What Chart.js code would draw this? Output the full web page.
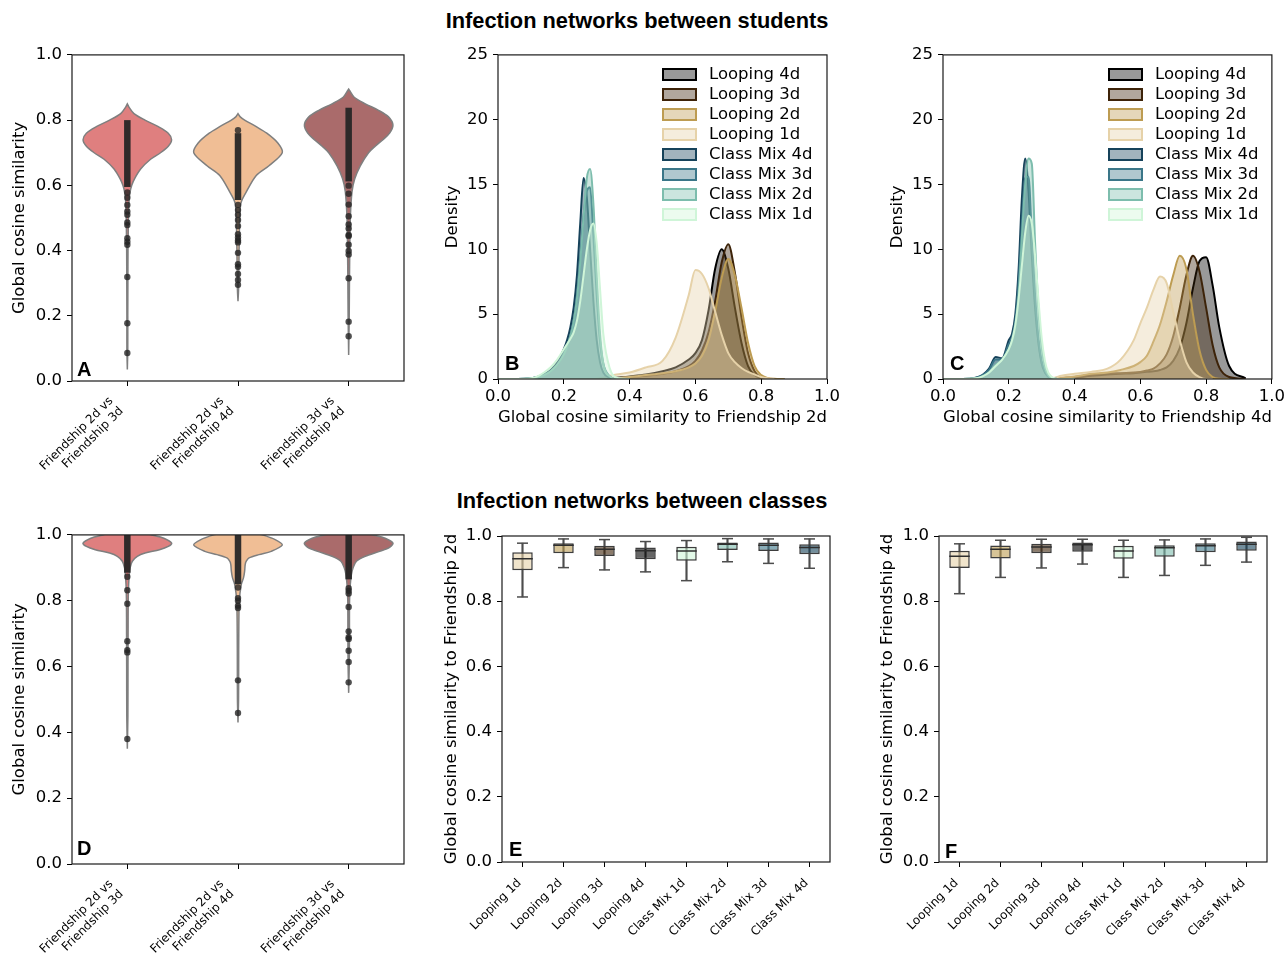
<!DOCTYPE html>
<html>
<head>
<meta charset="utf-8">
<script src="https://cdn.jsdelivr.net/npm/chart.js@4.4.1/dist/chart.umd.min.js"></script>
<style>
  html, body { margin: 0; padding: 0; background: #fff; overflow: hidden; }
  #page { position: relative; width: 1286px; height: 954px; font-family: 'DejaVu Sans', sans-serif; color: #000; }
  canvas { position: absolute; }
  .title { position: absolute; transform: translateX(-50%); font: bold 21.8px 'Liberation Sans', Arial, sans-serif; white-space: nowrap; }
  .legend-box { position: absolute; width: 31px; height: 9px; border: 2px solid; }
  .legend-text { position: absolute; font: 16.5px 'DejaVu Sans'; line-height: 20px; white-space: nowrap; }
</style>
</head>
<body>
<div id="page">
  <div class="title" style="left:637px; top:8px">Infection networks between students</div>
  <div class="title" style="left:642px; top:488px">Infection networks between classes</div>
  <canvas id="chartA" width="420" height="440" style="left:0px; top:40px"></canvas>
  <canvas id="chartB" width="430" height="400" style="left:430px; top:40px"></canvas>
  <canvas id="chartC" width="410" height="400" style="left:878px; top:40px"></canvas>
  <canvas id="chartD" width="420" height="434" style="left:0px; top:520px"></canvas>
  <canvas id="chartE" width="420" height="434" style="left:430px; top:520px"></canvas>
  <canvas id="chartF" width="420" height="434" style="left:866px; top:520px"></canvas>
</div>
<script>
// ---- violin panels (A, D) ----
const pairLabels = [['Friendship 2d vs', 'Friendship 3d'], ['Friendship 2d vs', 'Friendship 4d'], ['Friendship 3d vs', 'Friendship 4d']];
const violinColors = ['#df7f7f', '#f0be95', '#aa6b6b'];

// students: y levels and half widths of each violin
const vA1_y = [0.035, 0.10, 0.20, 0.30, 0.40, 0.45, 0.50, 0.55, 0.58, 0.60, 0.62, 0.65, 0.68, 0.70, 0.72, 0.74, 0.76, 0.78, 0.80, 0.82, 0.84, 0.85];
const vA1_w = [0, 0.004, 0.004, 0.005, 0.006, 0.008, 0.01, 0.015, 0.025, 0.04, 0.065, 0.12, 0.21, 0.30, 0.37, 0.40, 0.37, 0.28, 0.16, 0.06, 0.015, 0];
const vA2_y = [0.245, 0.28, 0.35, 0.45, 0.52, 0.55, 0.58, 0.63, 0.66, 0.70, 0.73, 0.76, 0.78, 0.80, 0.81, 0.82];
const vA2_w = [0, 0.005, 0.008, 0.012, 0.018, 0.03, 0.075, 0.165, 0.28, 0.40, 0.36, 0.26, 0.165, 0.06, 0.02, 0];
const vA3_y = [0.08, 0.20, 0.30, 0.40, 0.50, 0.58, 0.62, 0.66, 0.70, 0.72, 0.74, 0.76, 0.785, 0.81, 0.83, 0.85, 0.87, 0.89, 0.895];
const vA3_w = [0, 0.005, 0.007, 0.01, 0.015, 0.03, 0.055, 0.105, 0.18, 0.24, 0.31, 0.37, 0.40, 0.36, 0.27, 0.15, 0.05, 0.01, 0];
const ptsA1 = [0.578, 0.562, 0.54, 0.52, 0.51, 0.486, 0.478, 0.438, 0.427, 0.418, 0.319, 0.177, 0.086];
const ptsA2 = [0.769, 0.54, 0.524, 0.51, 0.494, 0.475, 0.45, 0.44, 0.431, 0.425, 0.393, 0.358, 0.35, 0.328, 0.31, 0.295];
const ptsA3 = [0.599, 0.574, 0.541, 0.505, 0.48, 0.468, 0.448, 0.445, 0.418, 0.399, 0.388, 0.315, 0.182, 0.137];
const denseA1 = [0.595, 0.80];
const denseA2 = [0.555, 0.76];
const denseA3 = [0.612, 0.838];

// classes
const vD1_y = [0.35, 0.45, 0.60, 0.70, 0.80, 0.85, 0.88, 0.90, 0.92, 0.935, 0.945, 0.955, 0.965, 0.975, 0.99, 1.0, 1.01, 1.02];
const vD1_w = [0, 0.005, 0.006, 0.007, 0.008, 0.012, 0.018, 0.025, 0.045, 0.09, 0.16, 0.29, 0.37, 0.40, 0.33, 0.22, 0.1, 0];
const vD2_y = [0.43, 0.50, 0.60, 0.70, 0.80, 0.85, 0.87, 0.89, 0.91, 0.92, 0.93, 0.94, 0.95, 0.969, 0.985, 1.0, 1.01, 1.02];
const vD2_w = [0, 0.005, 0.006, 0.007, 0.012, 0.03, 0.05, 0.06, 0.065, 0.075, 0.10, 0.19, 0.30, 0.40, 0.34, 0.22, 0.1, 0];
const vD3_y = [0.52, 0.60, 0.70, 0.80, 0.85, 0.88, 0.90, 0.92, 0.935, 0.95, 0.962, 0.975, 0.99, 1.0, 1.01, 1.02];
const vD3_w = [0, 0.005, 0.007, 0.008, 0.015, 0.025, 0.04, 0.07, 0.15, 0.28, 0.37, 0.40, 0.33, 0.22, 0.1, 0];
const ptsD1 = [0.873, 0.832, 0.791, 0.677, 0.65, 0.643, 0.38];
const ptsD2 = [0.84, 0.808, 0.80, 0.785, 0.778, 0.558, 0.459];
const ptsD3 = [0.838, 0.83, 0.822, 0.781, 0.707, 0.689, 0.684, 0.648, 0.614, 0.552];
const denseD1 = [0.885, 1.0];
const denseD2 = [0.85, 1.0];
const denseD3 = [0.865, 1.0];

// ---- density panels (B, C) ----
const kdeLabels = ['Looping 4d', 'Looping 3d', 'Looping 2d', 'Looping 1d', 'Class Mix 4d', 'Class Mix 3d', 'Class Mix 2d', 'Class Mix 1d'];
const kdeColors = ['#000000', '#3d2309', '#bd9c52', '#e6d2a9', '#16425a', '#3a7688', '#7dbdad', '#cff5d8'];
const kdeGrid = [0.00, 0.06, 0.10, 0.12, 0.14, 0.16, 0.18, 0.20, 0.21, 0.22, 0.23, 0.24, 0.25, 0.26, 0.27, 0.28, 0.29, 0.30, 0.31, 0.32,
  0.34, 0.36, 0.40, 0.45, 0.50, 0.54, 0.58, 0.60, 0.62, 0.64, 0.66, 0.68, 0.70, 0.72, 0.74, 0.76, 0.78, 0.80, 0.82, 0.84, 0.87, 0.92];

const bLoop4 = [0, 0, 0, 0, 0, 0, 0, 0, 0, 0, 0, 0, 0, 0, 0, 0, 0, 0, 0, 0.02, 0.05, 0.1, 0.2, 0.35, 0.6, 0.9, 1.5, 2.0, 3.0, 5.3, 8.5, 10.0, 8.5, 5.5, 2.8, 1.0, 0.3, 0.05, 0, 0, 0];
const bLoop3 = [0, 0, 0, 0, 0, 0, 0, 0, 0, 0, 0, 0, 0, 0, 0, 0, 0, 0, 0, 0.01, 0.03, 0.05, 0.15, 0.25, 0.4, 0.6, 1.0, 1.4, 2.2, 3.6, 6.0, 9.0, 10.4, 8.2, 4.8, 2.0, 0.6, 0.12, 0.02, 0, 0];
const bLoop2 = [null, null, null, null, null, null, null, 0, 0, 0, 0, 0, 0, 0, 0, 0, 0, 0, 0, 0.01, 0.03, 0.05, 0.15, 0.3, 0.45, 0.6, 0.9, 1.2, 1.8, 3.0, 5.2, 7.8, 9.25, 8.0, 5.5, 2.8, 1.0, 0.3, 0.08, 0.02, 0];
const bLoop1 = [null, null, null, null, null, null, null, 0, 0, 0, 0, 0, 0, 0, 0, 0, 0, 0.02, 0.05, 0.1, 0.25, 0.35, 0.5, 0.9, 1.4, 3.2, 6.5, 8.4, 8.1, 7.0, 5.2, 3.4, 2.0, 1.3, 0.85, 0.55, 0.35, 0.15, 0.05, 0];
const bMix4 = [0, 0, 0.05, 0.15, 0.35, 0.7, 1.3, 2.3, 3.0, 4.0, 5.5, 8.0, 12.0, 15.5, 14.0, 10.0, 6.0, 3.0, 1.3, 0.5, 0.1, 0, 0];
const bMix3 = [0, 0, 0.05, 0.15, 0.35, 0.6, 1.1, 2.0, 2.6, 3.4, 4.5, 6.5, 9.5, 12.5, 14.5, 14.8, 11.0, 6.5, 3.0, 1.2, 0.2, 0, 0];
const bMix2 = [0, 0, 0.03, 0.1, 0.3, 0.6, 1.1, 1.9, 2.5, 3.3, 4.4, 6.2, 9.0, 12.5, 15.5, 16.2, 13.5, 8.0, 3.5, 1.2, 0.2, 0.02, 0];
const bMix1 = [0, 0, 0.05, 0.2, 0.5, 0.9, 1.5, 2.3, 2.7, 3.1, 3.6, 4.5, 6.0, 8.0, 10.0, 11.5, 12.0, 10.5, 7.0, 3.5, 0.8, 0.1, 0];

const cLoop4 = [0, 0, 0, 0, 0, 0, 0, 0, 0, 0, 0, 0, 0, 0, 0, 0, 0, 0, 0, 0, 0.02, 0.05, 0.1, 0.25, 0.35, 0.4, 0.45, 0.5, 0.55, 0.6, 0.7, 0.9, 1.4, 2.4, 4.3, 7.0, 9.1, 9.4, 7.2, 4.0, 1.0, 0.05];
const cLoop3 = [0, 0, 0, 0, 0, 0, 0, 0, 0, 0, 0, 0, 0, 0, 0, 0, 0, 0, 0, 0, 0.02, 0.05, 0.15, 0.3, 0.45, 0.45, 0.5, 0.55, 0.65, 0.8, 1.2, 1.9, 3.3, 5.5, 8.0, 9.5, 8.3, 5.5, 2.6, 0.9, 0.15, 0];
const cLoop2 = [null, null, null, null, null, null, null, 0, 0, 0, 0, 0, 0, 0, 0, 0, 0, 0, 0, 0, 0.05, 0.1, 0.2, 0.4, 0.5, 0.7, 1.0, 1.3, 1.8, 2.9, 4.2, 6.0, 8.0, 9.5, 8.5, 5.0, 2.2, 0.7, 0.15, 0.02, 0];
const cLoop1 = [null, null, null, null, null, null, null, 0, 0, 0, 0, 0, 0, 0, 0, 0, 0, 0, 0, 0.05, 0.1, 0.25, 0.4, 0.55, 0.8, 1.5, 3.0, 4.3, 5.5, 6.9, 7.9, 7.4, 5.2, 3.0, 1.3, 0.5, 0.15, 0, 0];
const cMix4 = [0, 0, 0.1, 0.3, 0.8, 1.7, 1.6, 3.0, 3.5, 5.0, 8.5, 14.0, 17.0, 14.5, 9.5, 5.5, 2.8, 1.2, 0.5, 0.2, 0.02, 0, 0];
const cMix3 = [0, 0, 0.1, 0.3, 0.7, 1.5, 1.5, 2.7, 3.2, 4.5, 7.5, 12.0, 15.5, 15.6, 11.0, 6.5, 3.2, 1.4, 0.6, 0.2, 0.02, 0, 0];
const cMix2 = [0, 0, 0.05, 0.2, 0.5, 1.1, 1.5, 2.3, 2.9, 4.0, 6.5, 11.0, 15.0, 17.0, 16.6, 10.5, 5.5, 2.4, 0.9, 0.3, 0.03, 0, 0];
const cMix1 = [0, 0, 0.05, 0.2, 0.5, 1.0, 1.5, 2.3, 3.0, 4.2, 6.2, 8.8, 11.3, 12.6, 12.0, 9.5, 6.2, 3.2, 1.4, 0.5, 0.05, 0, 0];

// ---- box panels (E, F) ----
const boxLabels = ['Looping 1d', 'Looping 2d', 'Looping 3d', 'Looping 4d', 'Class Mix 1d', 'Class Mix 2d', 'Class Mix 3d', 'Class Mix 4d'];
const boxColors = ['#e6d2a9', '#bd9c52', '#3d2309', '#000000', '#cff5d8', '#7dbdad', '#3a7688', '#16425a'];
const eLow  = [0.813, 0.903, 0.896, 0.890, 0.863, 0.921, 0.916, 0.901];
const eQ1   = [0.895, 0.947, 0.939, 0.929, 0.924, 0.957, 0.954, 0.944];
const eMed  = [0.930, 0.972, 0.959, 0.955, 0.954, 0.975, 0.972, 0.965];
const eQ3   = [0.950, 0.978, 0.970, 0.965, 0.967, 0.980, 0.980, 0.975];
const eHigh = [0.978, 0.991, 0.989, 0.983, 0.986, 0.992, 0.991, 0.991];
const fLow  = [0.823, 0.873, 0.902, 0.914, 0.873, 0.879, 0.910, 0.920];
const fQ1   = [0.902, 0.931, 0.947, 0.952, 0.930, 0.936, 0.950, 0.955];
const fMed  = [0.938, 0.959, 0.966, 0.973, 0.954, 0.964, 0.970, 0.975];
const fQ3   = [0.955, 0.971, 0.976, 0.980, 0.970, 0.972, 0.978, 0.983];
const fHigh = [0.976, 0.987, 0.990, 0.990, 0.987, 0.988, 0.991, 0.996];

const tickFont = { family: 'DejaVu Sans', size: 16.5 };
const smallFont = { family: 'DejaVu Sans', size: 12 };
const labelFont = { family: 'DejaVu Sans', size: 16.5 };

Chart.defaults.font.family = 'DejaVu Sans';
Chart.defaults.color = '#000';

function rgba(hex, a) {
    const n = parseInt(hex.slice(1), 16);
    return `rgba(${(n >> 16) & 255}, ${(n >> 8) & 255}, ${n & 255}, ${a})`;
}

// frame round the plot area + the panel letter
const panelDecor = {
    id: 'panelDecor',
    afterDraw(chart, args, opts) {
        const { ctx, chartArea: a } = chart;
        ctx.save();
        ctx.strokeStyle = '#1a1a1a';
        ctx.lineWidth = 1.2;
        ctx.strokeRect(a.left, a.top, a.right - a.left, a.bottom - a.top);
        ctx.font = 'bold 20px "Liberation Sans", Arial, sans-serif';
        ctx.fillStyle = '#000';
        ctx.textBaseline = 'alphabetic';
        ctx.textAlign = 'left';
        ctx.fillText(opts.letter, a.left + opts.dx, a.bottom - opts.dy);
        ctx.restore();
    }
};

const tickGrid = { drawOnChartArea: false, drawTicks: true, tickLength: 5, color: '#000', tickColor: '#000', tickWidth: 1 };

function yAxis(min, max, step, title, titlePad, width) {
    return {
        type: 'linear', min, max,
        ticks: { stepSize: step, padding: 5, font: tickFont, color: '#000', callback: v => step < 1 ? v.toFixed(1) : String(v) },
        grid: tickGrid,
        border: { display: false },
        title: { display: true, text: title, font: labelFont, color: '#000', padding: { top: titlePad, bottom: 0 } },
        afterFit: s => { s.width = width; }
    };
}

function baseOptions(g, scales, letter, dx, dy) {
    return {
        responsive: false, animation: false, devicePixelRatio: 1,
        layout: { padding: { left: 0, top: g.top, right: g.right, bottom: 0 } },
        plugins: { legend: { display: false }, tooltip: { enabled: false }, panelDecor: { letter, dx, dy } },
        scales
    };
}

function violinShape(center, ys, ws) {
    const right = ys.map((y, i) => ({ x: center + ws[i], y }));
    const left = ys.map((y, i) => ({ x: center - ws[i], y })).reverse();
    return right.concat(left);
}

function violinChart(id, groups, letter, g, dx, dy) {
    const datasets = [];
    groups.forEach((v, i) => {
        datasets.push({ data: violinShape(i, v.ys, v.ws), showLine: true, fill: 'shape', backgroundColor: violinColors[i],
            borderColor: '#7f7f7f', borderWidth: 1.5, pointRadius: 0, tension: 0.3, order: 3 });
        datasets.push({ data: v.dense.map(y => ({ x: i, y })), showLine: true, borderColor: 'rgba(38,38,38,0.95)', borderWidth: 6.5,
            pointRadius: 0, order: 2 });
        datasets.push({ data: v.pts.map(y => ({ x: i, y })), showLine: false, pointRadius: 3.2,
            backgroundColor: 'rgba(38,38,38,0.8)', pointBackgroundColor: 'rgba(38,38,38,0.8)', pointBorderWidth: 0, order: 1 });
    });
    const scales = {
        x: {
            type: 'linear', min: -0.5, max: 2.5,
            afterBuildTicks: s => { s.ticks = pairLabels.map((_, i) => ({ value: i })); },
            ticks: { font: smallFont, color: '#000', minRotation: 45, maxRotation: 45, autoSkip: false, padding: 8, labelOffset: -16,
                callback: v => pairLabels[v] },
            grid: tickGrid, border: { display: false },
            afterFit: s => { s.height = g.xH; }
        },
        y: yAxis(0, 1, 0.2, 'Global cosine similarity', g.tp, g.yW)
    };
    new Chart(document.getElementById(id), { type: 'scatter', data: { datasets }, options: baseOptions(g, scales, letter, dx, dy), plugins: [panelDecor] });
}

function kdeChart(id, series, xTitle, letter, g, dx, dy) {
    // later legend entries are drawn over the earlier ones
    const datasets = series.map((vals, i) => ({
        label: kdeLabels[i],
        data: kdeGrid.map((x, j) => ({ x, y: vals[j] ?? null })),
        showLine: true, fill: 'origin', borderColor: kdeColors[i], backgroundColor: rgba(kdeColors[i], 0.4),
        borderWidth: 2, pointRadius: 0, cubicInterpolationMode: 'monotone', spanGaps: false,
        order: series.length - i
    }));
    const scales = {
        x: {
            type: 'linear', min: 0, max: 1,
            ticks: { stepSize: 0.2, padding: 3, font: tickFont, color: '#000', callback: v => v.toFixed(1) },
            grid: tickGrid, border: { display: false },
            title: { display: true, text: xTitle, font: labelFont, color: '#000', padding: { top: 0, bottom: 12 } },
            afterFit: s => { s.height = g.xH; }
        },
        y: yAxis(0, 25, 5, 'Density', g.tp, g.yW)
    };
    new Chart(document.getElementById(id), { type: 'scatter', data: { datasets }, options: baseOptions(g, scales, letter, dx, dy), plugins: [panelDecor] });
}

function boxChart(id, low, q1, med, q3, high, yTitle, letter, g, dx, dy) {
    const datasets = [
        { type: 'line', data: med, showLine: false, pointStyle: 'line', pointRadius: 10.25, pointBorderWidth: 1.5, pointBorderColor: '#2e2e2e', order: 0 },
        { type: 'line', data: high, showLine: false, pointStyle: 'line', pointRadius: 5.5, pointBorderWidth: 1.5, pointBorderColor: '#4d4d4d', order: 1 },
        { type: 'line', data: low, showLine: false, pointStyle: 'line', pointRadius: 5.5, pointBorderWidth: 1.5, pointBorderColor: '#4d4d4d', order: 1 },
        { type: 'bar', data: q1.map((v, i) => [v, q3[i]]), backgroundColor: boxColors.map(c => rgba(c, 0.6)), borderColor: '#3d3d3d',
            borderWidth: 1.5, borderSkipped: false, grouped: false, barPercentage: 0.5, categoryPercentage: 1, order: 2 },
        { type: 'bar', data: low.map((v, i) => [v, high[i]]), backgroundColor: '#4d4d4d', barThickness: 1.5, grouped: false, order: 3 }
    ];
    const scales = {
        x: {
            type: 'category', offset: true,
            ticks: { font: smallFont, color: '#000', minRotation: 45, maxRotation: 45, autoSkip: false, padding: 9, labelOffset: -3 },
            grid: Object.assign({}, tickGrid, { offset: false }), border: { display: false },
            afterFit: s => { s.height = g.xH; }
        },
        y: yAxis(0, 1, 0.2, yTitle, g.tp, g.yW)
    };
    new Chart(document.getElementById(id), { type: 'bar', data: { labels: boxLabels, datasets }, options: baseOptions(g, scales, letter, dx, dy), plugins: [panelDecor] });
}

function buildLegend(boxLeft, textLeft, firstCenter) {
    const page = document.getElementById('page');
    kdeLabels.forEach((label, i) => {
        const cy = firstCenter + i * 20;
        const box = document.createElement('div');
        box.className = 'legend-box';
        box.style.left = boxLeft + 'px';
        box.style.top = (cy - 6.5) + 'px';
        box.style.borderColor = kdeColors[i];
        box.style.background = rgba(kdeColors[i], 0.4);
        page.appendChild(box);
        const txt = document.createElement('div');
        txt.className = 'legend-text';
        txt.textContent = label;
        txt.style.left = textLeft + 'px';
        txt.style.top = (cy - 10) + 'px';
        page.appendChild(txt);
    });
}

violinChart('chartA', [
    { ys: vA1_y, ws: vA1_w, pts: ptsA1, dense: denseA1 },
    { ys: vA2_y, ws: vA2_w, pts: ptsA2, dense: denseA2 },
    { ys: vA3_y, ws: vA3_w, pts: ptsA3, dense: denseA3 }
], 'A', { top: 11, right: 16, xH: 99, yW: 72, tp: 10 }, 5, 5);

violinChart('chartD', [
    { ys: vD1_y, ws: vD1_w, pts: ptsD1, dense: denseD1 },
    { ys: vD2_y, ws: vD2_w, pts: ptsD2, dense: denseD2 },
    { ys: vD3_y, ws: vD3_w, pts: ptsD3, dense: denseD3 }
], 'D', { top: 14, right: 16, xH: 90, yW: 72, tp: 10 }, 5, 9);

kdeChart('chartB', [bLoop4, bLoop3, bLoop2, bLoop1, bMix4, bMix3, bMix2, bMix1], 'Global cosine similarity to Friendship 2d', 'B',
    { top: 13, right: 33, xH: 61, yW: 68, tp: 13 }, 7, 9);
kdeChart('chartC', [cLoop4, cLoop3, cLoop2, cLoop1, cMix4, cMix3, cMix2, cMix1], 'Global cosine similarity to Friendship 4d', 'C',
    { top: 13, right: 15, xH: 61, yW: 65, tp: 10 }, 7, 9);

boxChart('chartE', eLow, eQ1, eMed, eQ3, eHigh, 'Global cosine similarity to Friendship 2d', 'E',
    { top: 16, right: 20, xH: 92, yW: 72, tp: 12 }, 7, 6);
boxChart('chartF', fLow, fQ1, fMed, fQ3, fHigh, 'Global cosine similarity to Friendship 4d', 'F',
    { top: 16, right: 19, xH: 92, yW: 73, tp: 12 }, 6, 4);

buildLegend(662, 709, 74);
buildLegend(1108, 1155, 74);
</script>
</body>
</html>
